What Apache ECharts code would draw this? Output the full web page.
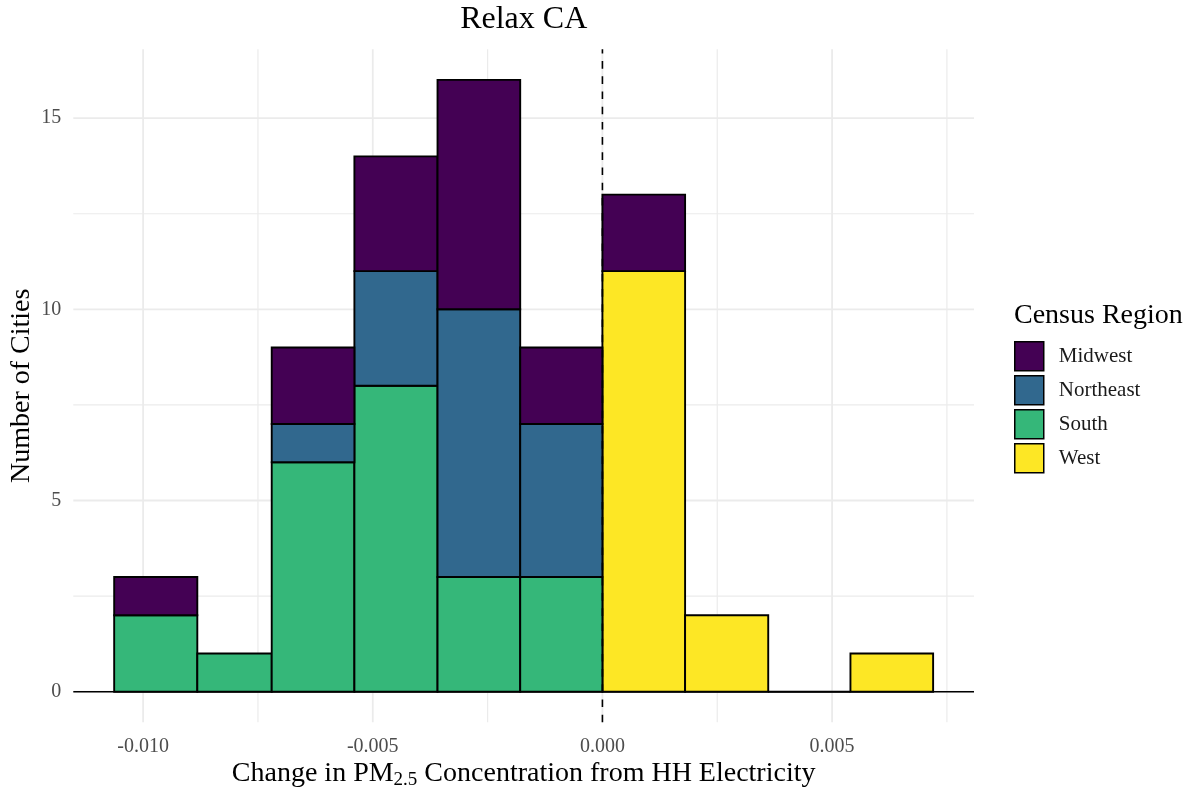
<!DOCTYPE html>
<html><head><meta charset="utf-8">
<script src="https://cdn.jsdelivr.net/npm/echarts@6/dist/echarts.min.js"></script>
<style>html,body{margin:0;padding:0;background:#fff}#c{width:1196px;height:787px}</style>
</head><body><div id="c"></div>
<script>
// ---- data ----
const binEdges = [-0.01063, -0.00882, -0.00720, -0.00540, -0.00359, -0.00179, 0.00000, 0.00180, 0.00361, 0.00540, 0.00720];
const regions = ['Midwest', 'Northeast', 'South', 'West'];
const midwest   = [1, 0, 2, 3, 6, 2, 2, 0, 0, 0];
const northeast = [0, 0, 1, 3, 7, 4, 0, 0, 0, 0];
const south     = [2, 1, 6, 8, 3, 3, 0, 0, 0, 0];
const west      = [0, 0, 0, 0, 0, 0, 11, 2, 0, 1];
const xTicks = [-0.010, -0.005, 0.000, 0.005];
const xMinorTicks = [-0.0075, -0.0025, 0.0025, 0.0075];
const yTicks = [0, 5, 10, 15];
const yMinorTicks = [2.5, 7.5, 12.5];

// ---- style ----
const colors = { Midwest: '#440154', Northeast: '#31688E', South: '#35B779', West: '#FDE725' };
const FONT = '"Liberation Serif", "DejaVu Serif", serif';
const xMin = -0.01152, xMax = 0.00809, yMin = -0.8, yMax = 16.8;

const layers = [ // bottom to top
  { name: 'West', vals: west },
  { name: 'South', vals: south },
  { name: 'Northeast', vals: northeast },
  { name: 'Midwest', vals: midwest }
];

function barSeries(li) {
  const L = layers[li];
  return {
    type: 'custom', name: L.name, z: 3,
    itemStyle: { color: colors[L.name], borderColor: '#000', borderWidth: 1.6 },
    encode: { x: [0, 1], y: 2 },
    data: L.vals.map((v, i) => [binEdges[i], binEdges[i + 1], v]),
    renderItem: function (params, api) {
      const i = params.dataIndex;
      const v = L.vals[i];
      let base = 0;
      for (let j = 0; j < li; j++) base += layers[j].vals[i];
      let total = 0;
      layers.forEach(l => total += l.vals[i]);
      if (v === 0 && !(total === 0 && li === 0)) return null;
      const p0 = api.coord([binEdges[i], base]);
      const p1 = api.coord([binEdges[i + 1], base + v]);
      return {
        type: 'rect',
        shape: { x: p0[0], y: p1[1], width: p1[0] - p0[0], height: p0[1] - p1[1] },
        style: { fill: colors[L.name], stroke: '#000', lineWidth: 1.9 }
      };
    }
  };
}

function vLines(vals, width, color, z, dash) {
  return {
    type: 'custom', silent: true, z: z, encode: { x: 0 },
    data: vals.map(v => [v]),
    renderItem: function (params, api) {
      const v = vals[params.dataIndex];
      const a = api.coord([v, yMin]);
      const b = api.coord([v, yMax]);
      return { type: 'line', shape: { x1: a[0], y1: a[1], x2: b[0], y2: b[1] },
        style: { stroke: color, lineWidth: width, lineDash: dash || null } };
    }
  };
}
function hLines(vals, width, color, z) {
  return {
    type: 'custom', silent: true, z: z, encode: { y: 0 },
    data: vals.map(v => [0, v]),
    renderItem: function (params, api) {
      const v = vals[params.dataIndex];
      const a = api.coord([xMin, v]);
      const b = api.coord([xMax, v]);
      return { type: 'line', shape: { x1: a[0], y1: a[1], x2: b[0], y2: b[1] },
        style: { stroke: color, lineWidth: width } };
    }
  };
}

const chart = echarts.init(document.getElementById('c'), null, { renderer: 'canvas' });
chart.setOption({
  animation: false,
  backgroundColor: '#fff',
  textStyle: { fontFamily: FONT },
  grid: { left: 73.3, right: 222, top: 49.3, bottom: 64.7, containLabel: false, outerBoundsMode: 'none' },
  xAxis: {
    type: 'value', min: xMin, max: xMax,
    axisLine: { show: false }, axisTick: { show: false }, splitLine: { show: false },
    axisLabel: { customValues: xTicks, formatter: v => v.toFixed(3), color: '#4D4D4D', fontSize: 20, fontFamily: FONT, margin: 14 },
    name: 'Change in PM{sub|2.5} Concentration from HH Electricity',
    nameLocation: 'middle', nameGap: 36, nameMoveOverlap: false,
    nameTextStyle: { color: '#000', fontSize: 28, fontFamily: FONT, verticalAlign: 'top',
      rich: { sub: { fontSize: 19, fontFamily: FONT, color: '#000', padding: [12, 0, 0, 0] } } }
  },
  yAxis: {
    type: 'value', min: yMin, max: yMax,
    axisLine: { show: false }, axisTick: { show: false }, splitLine: { show: false },
    axisLabel: { customValues: yTicks, color: '#4D4D4D', fontSize: 20, fontFamily: FONT, margin: 12 },
    name: 'Number of Cities', nameLocation: 'middle', nameGap: 38, nameMoveOverlap: false,
    nameTextStyle: { color: '#000', fontSize: 28, fontFamily: FONT }
  },
  legend: {
    data: regions, orient: 'vertical', left: 1014, top: 341,
    itemWidth: 29, itemHeight: 29, itemGap: 3.5, padding: 0,
    icon: 'rect',
    itemStyle: { borderColor: '#000', borderWidth: 1.5 },
    textStyle: { fontSize: 21, fontFamily: FONT, color: '#1a1a1a', padding: [0, 0, 0, 10] }
  },
  graphic: [
    { type: 'text', x: 523.7, y: 20, style: { text: 'Relax CA', font: '32px ' + FONT, fill: '#000', textAlign: 'center', textVerticalAlign: 'middle' } },
    { type: 'text', x: 1014, y: 316, style: { text: 'Census Region', font: '28px ' + FONT, fill: '#000', textAlign: 'left', textVerticalAlign: 'middle' } }
  ],
  series: [
    hLines(yMinorTicks, 1.2, '#EBEBEB', 0),
    vLines(xMinorTicks, 1.2, '#EBEBEB', 0),
    hLines(yTicks, 1.8, '#EBEBEB', 1),
    vLines(xTicks, 1.8, '#EBEBEB', 1),
    hLines([0], 1.4, '#000', 2),
    barSeries(0), barSeries(1), barSeries(2), barSeries(3),
    vLines([0], 1.6, '#000', 5, [7.6, 7.6])
  ]
});
</script></body></html>
